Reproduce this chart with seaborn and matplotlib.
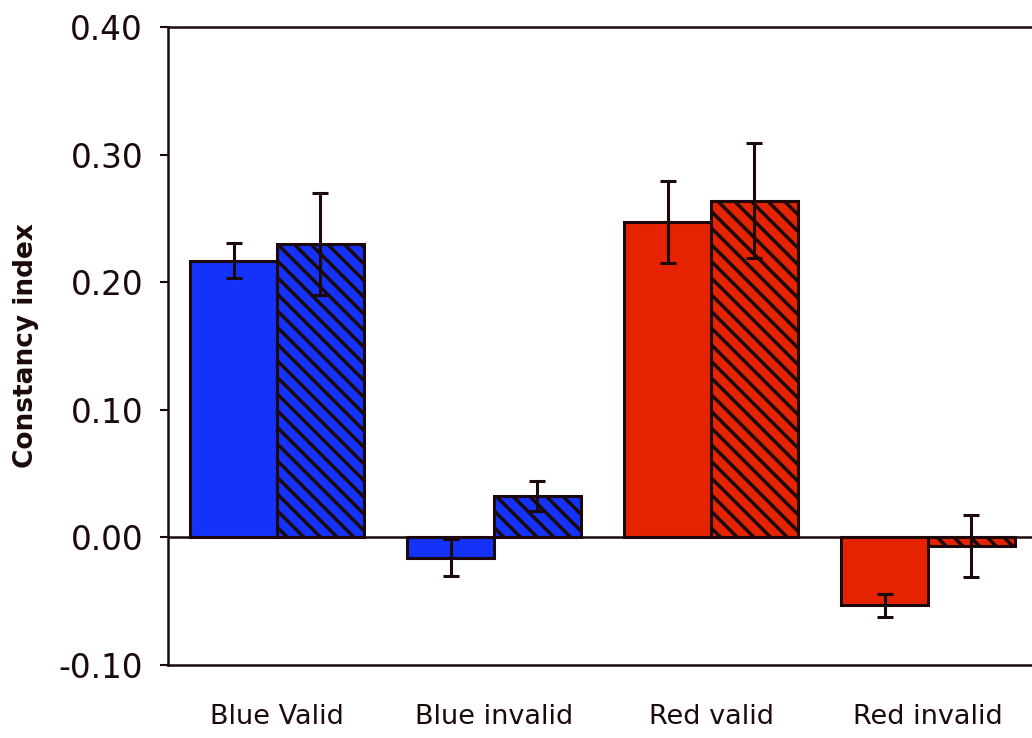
import matplotlib
matplotlib.use("Agg")
import matplotlib.pyplot as plt
import seaborn as sns
import pandas as pd
import numpy as np

categories = ["Blue Valid", "Blue invalid", "Red valid", "Red invalid"]
solid_vals = [0.217, -0.016, 0.247, -0.053]
solid_err = [0.014, 0.0145, 0.032, 0.009]
hatched_vals = [0.2296, 0.0324, 0.264, -0.0066]
hatched_err = [0.040, 0.012, 0.045, 0.0245]
conditions = ["solid", "hatched"]
yticks = [-0.10, 0.00, 0.10, 0.20, 0.30, 0.40]

BLUE = "#1432FA"
RED = "#E62300"
EDGE = "#1C0A0A"
cat_colors = [BLUE, BLUE, RED, RED]

sns.set_style("white")
plt.rcParams["font.family"] = ["DejaVu Sans"]
plt.rcParams["hatch.linewidth"] = 2.5
plt.rcParams["hatch.color"] = EDGE

df = pd.DataFrame({
    "category": categories * 2,
    "condition": [conditions[0]] * 4 + [conditions[1]] * 4,
    "value": solid_vals + hatched_vals,
    "err": solid_err + hatched_err,
})

fig = plt.figure(figsize=(10.32, 7.38), dpi=100)
ax = fig.add_axes([0.1628, 0.0989, 1.0055 - 0.1628, 0.9634 - 0.0989])

sns.barplot(data=df, x="category", y="value", hue="condition", order=categories,
            hue_order=conditions, errorbar=None, width=0.8, ax=ax, legend=False,
            edgecolor=EDGE, linewidth=2.2, saturation=1)

bars = [p for p in ax.patches]
for p in bars:
    cx = p.get_x() + p.get_width() / 2
    ci = int(round(cx))
    p.set_facecolor(cat_colors[ci])
    p.set_edgecolor(EDGE)
    if cx > ci:
        p.set_hatch("\\\\")

# error bars
for p in bars:
    cx = p.get_x() + p.get_width() / 2
    ci = int(round(cx))
    cond = "hatched" if cx > ci else "solid"
    row = df[(df.category == categories[ci]) & (df.condition == cond)].iloc[0]
    ax.errorbar(cx, row.value, yerr=row.err, fmt="none", ecolor=EDGE,
                elinewidth=2.2, capsize=5.5, capthick=2.2, zorder=5)

ax.axhline(0, color=EDGE, lw=1.8, zorder=4)
ax.set_xlim(-0.502, 3.505)
ax.set_ylim(-0.10, 0.40)
ax.set_yticks(yticks)
ax.set_yticklabels([f"{t:.2f}" for t in yticks], fontsize=23.5)
ax.set_xticks(range(4))
ax.set_xticklabels(categories, fontsize=19.5)
ax.set_xlabel("")
ax.set_ylabel("Constancy index", fontsize=19, fontweight="bold", labelpad=14,
              color=EDGE)

for s in ["left", "top", "bottom"]:
    ax.spines[s].set_visible(True)
    ax.spines[s].set_color(EDGE)
    ax.spines[s].set_linewidth(1.8)
ax.spines["right"].set_visible(False)
ax.tick_params(axis="y", direction="out", length=6, width=1.5, color=EDGE,
               left=True, pad=12, labelcolor=EDGE)
ax.tick_params(axis="x", length=0, pad=28, labelcolor=EDGE)

fig.savefig("out.png", dpi=100)
